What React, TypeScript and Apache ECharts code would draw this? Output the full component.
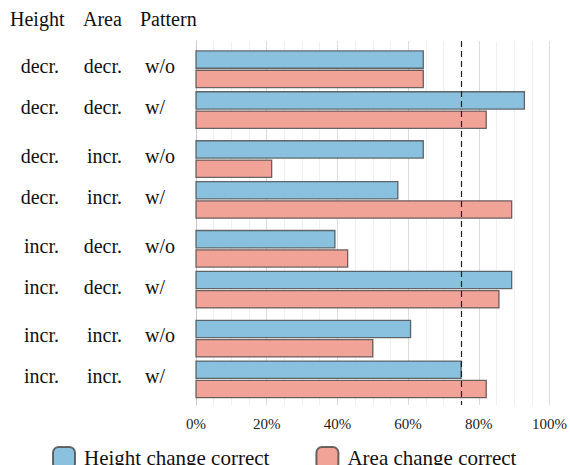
import React, { useEffect, useRef } from "react";
import * as echarts from "echarts";

const heightAttr = ["decr.", "decr.", "decr.", "decr.", "incr.", "incr.", "incr.", "incr."];
const areaAttr = ["decr.", "decr.", "incr.", "incr.", "decr.", "decr.", "incr.", "incr."];
const patternAttr = ["w/o", "w/", "w/o", "w/", "w/o", "w/", "w/o", "w/"];
const heightCorrect = [64.3, 92.9, 64.3, 57.1, 39.3, 89.3, 60.7, 75.0];
const areaCorrect = [64.3, 82.1, 21.4, 89.3, 42.9, 85.7, 50.0, 82.1];
const headers = ["Height", "Area", "Pattern"];
const xTicks = [0, 20, 40, 60, 80, 100];
const threshold = 75;
const seriesNames = ["Height change correct", "Area change correct"];

const FONT = '"Liberation Serif", "Times New Roman", serif';
const BLUE = "#89C1DE";
const RED = "#F2A398";
const STROKE = "rgba(70,70,70,0.8)";
const GROUP_GAP = 0.2;

const rowPos = heightCorrect.map((_, i) => i + GROUP_GAP * Math.floor(i / 2));

function barRender(offset: number) {
  return (params: any, api: any) => {
    const v = api.value(0);
    const p = api.value(1);
    const start = api.coord([0, p]);
    const end = api.coord([v, p]);
    const unit = api.size([0, 1])[1];
    const h = 0.424 * unit;
    const y = start[1] + offset * unit;
    return {
      type: "rect",
      shape: { x: start[0], y, width: end[0] - start[0], height: h },
      style: { fill: api.visual("color"), stroke: STROKE, lineWidth: 1.3 },
    };
  };
}

export default function App() {
  const ref = useRef<HTMLDivElement>(null);
  useEffect(() => {
    if (!ref.current) return;
    const chart = echarts.init(ref.current, null, { renderer: "svg" });
    const option: any = {
      animation: false,
      grid: { left: 196, right: 19, top: 41, bottom: 60 },
      xAxis: {
        type: "value",
        min: 0,
        max: 100,
        interval: 20,
        axisLine: { show: false },
        axisTick: { show: false },
        axisLabel: {
          formatter: (v: number) => (xTicks.includes(v) ? v + "%" : ""),
          fontFamily: FONT,
          fontSize: 15,
          color: "#222",
          margin: 11,
        },
        splitLine: { show: true, lineStyle: { color: "#dcdcdc", width: 1 } },
        minorTick: { show: false, splitNumber: 4 },
        minorSplitLine: { show: true, lineStyle: { color: "#f0f0f0", width: 1 } },
      },
      yAxis: {
        type: "value",
        inverse: true,
        min: -0.69,
        max: 8.23,
        axisLine: { show: true, lineStyle: { color: "#c8c8c8", width: 1 } },
        axisTick: { show: false },
        axisLabel: { show: false },
        splitLine: { show: false },
      },
      legend: {
        data: seriesNames,
        left: 52,
        top: 446,
        padding: 0,
        itemWidth: 22,
        itemHeight: 22,
        itemGap: 46,
        icon: "roundRect",
        textStyle: { fontFamily: FONT, fontSize: 21, color: "#111", padding: [0, 0, 0, 4] },
      },
      graphic: [
        { type: "text", left: 10, top: 9, style: { text: headers[0], fontFamily: FONT, fontSize: 20, fill: "#111" } },
        { type: "text", left: 83, top: 9, style: { text: headers[1], fontFamily: FONT, fontSize: 20, fill: "#111" } },
        { type: "text", left: 140, top: 9, style: { text: headers[2], fontFamily: FONT, fontSize: 20, fill: "#111" } },
      ],
      series: [
        {
          name: seriesNames[0],
          type: "custom",
          itemStyle: { color: BLUE, borderColor: STROKE, borderWidth: 1 },
          encode: { x: 0, y: 1 },
          data: heightCorrect.map((v, i) => [v, rowPos[i]]),
          renderItem: barRender(-0.446),
          z: 3,
        },
        {
          name: seriesNames[1],
          type: "custom",
          itemStyle: { color: RED, borderColor: STROKE, borderWidth: 1 },
          encode: { x: 0, y: 1 },
          data: areaCorrect.map((v, i) => [v, rowPos[i]]),
          renderItem: barRender(0.027),
          z: 3,
        },
        {
          name: "labels",
          type: "custom",
          silent: true,
          encode: { x: 0, y: 1 },
          data: rowPos.map((p) => [0, p]),
          renderItem: (params: any, api: any) => {
            const i = params.dataIndex;
            const y = api.coord([0, api.value(1)])[1] - 3;
            const st = (text: string, align: string) => ({
              text,
              fontFamily: FONT,
              fontSize: 20,
              fill: "#111",
              align,
              verticalAlign: "middle",
            });
            return {
              type: "group",
              children: [
                { type: "text", x: 59, y, style: st(heightAttr[i], "right") },
                { type: "text", x: 122, y, style: st(areaAttr[i], "right") },
                { type: "text", x: 145, y, style: st(patternAttr[i], "left") },
              ],
            };
          },
        },
        {
          name: "threshold",
          type: "line",
          data: [],
          silent: true,
          markLine: {
            silent: true,
            symbol: "none",
            label: { show: false },
            lineStyle: { color: "#222", type: [6, 4], width: 1.2 },
            data: [{ xAxis: threshold }],
          },
          z: 5,
        },
      ],
    };
    chart.setOption(option);
    return () => chart.dispose();
  }, []);
  return <div ref={ref} style={{ width: 570, height: 465, position: "absolute", left: 0, top: 0 }} />;
}
